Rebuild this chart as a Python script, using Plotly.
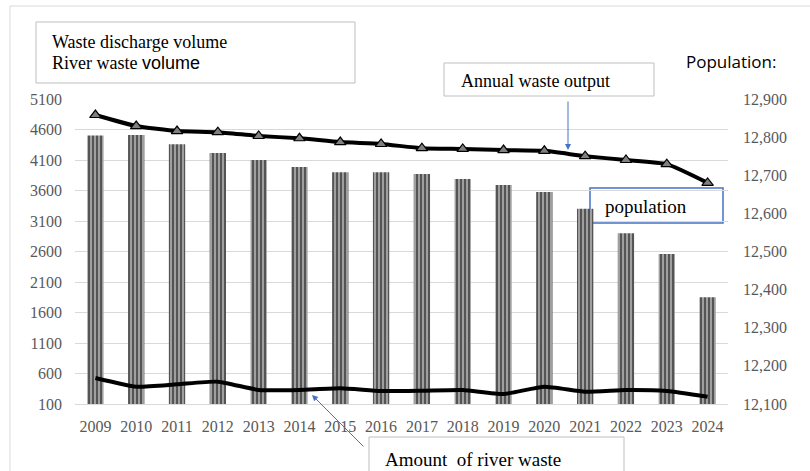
import plotly.graph_objects as go

years = [str(y) for y in range(2009, 2025)]
discharge = [4500, 4510, 4360, 4215, 4100, 3985, 3900, 3900, 3870, 3790, 3690, 3575, 3300, 2900, 2560, 1850]
river_waste = [526, 384, 423, 466, 330, 330, 357, 313, 318, 330, 264, 384, 302, 330, 313, 220]
population = [12858, 12829, 12816, 12813, 12803, 12797, 12787, 12782, 12771, 12769, 12766, 12764, 12750, 12740, 12729, 12680]

left_ticks = list(range(100, 5101, 500))
right_ticks = list(range(12100, 12901, 100))
right_labels = [f"{v:,}" for v in right_ticks]

W, H = 810, 471
L, R, T, B = 75, 82, 99, 67
PW, PH = W - L - R, H - T - B


def px(x):
    return (x - L) / PW


def py(y):
    return (H - B - y) / PH


SERIF = "Liberation Serif"
fig = go.Figure()
fig.add_trace(go.Bar(
    x=years, y=discharge, width=0.4, name="Waste discharge volume",
    marker=dict(color="#a8a8a8", line=dict(width=0),
                pattern=dict(shape="|", fgcolor="#000000", bgcolor="#a8a8a8", size=4, solidity=0.55)),
))
fig.add_trace(go.Scatter(
    x=years, y=river_waste, mode="lines", name="River waste volume",
    line=dict(color="black", width=4, shape="spline", smoothing=0.5),
))
fig.add_trace(go.Scatter(
    x=years, y=population, mode="lines+markers", name="population", yaxis="y2",
    line=dict(color="black", width=4, shape="spline", smoothing=0.5),
    marker=dict(symbol="triangle-up", size=10, color="#808080", line=dict(color="black", width=1.2)),
))

shapes = [
    dict(type="rect", xref="paper", yref="paper", x0=px(10), x1=px(840), y0=py(6), y1=py(500),
         line=dict(color="#d9d9d9", width=1), layer="below"),
    dict(type="rect", xref="paper", yref="paper", x0=px(36), x1=px(355), y0=py(22), y1=py(83),
         line=dict(color="#bfbfbf", width=1), fillcolor="white"),
    dict(type="rect", xref="paper", yref="paper", x0=px(444), x1=px(654), y0=py(63), y1=py(96),
         line=dict(color="#bfbfbf", width=1), fillcolor="white"),
    dict(type="rect", xref="paper", yref="paper", x0=px(590), x1=px(723), y0=py(188), y1=py(223),
         line=dict(color="#4472c4", width=1.5), fillcolor="white", layer="between"),
    dict(type="rect", xref="paper", yref="paper", x0=px(369), x1=px(624), y0=py(437), y1=py(480),
         line=dict(color="#bfbfbf", width=1), fillcolor="white"),
]

annotations = [
    dict(x=px(50), y=py(42), text="Waste discharge volume", xanchor="left", yanchor="middle",
         font=dict(family=SERIF, size=18, color="black")),
    dict(x=px(50), y=py(63), text="River waste <span style='font-family:Liberation Sans'>volume</span>",
         xanchor="left", yanchor="middle", font=dict(family=SERIF, size=18, color="black")),
    dict(x=px(684), y=py(61), text="Population:", xanchor="left", yanchor="middle",
         font=dict(family="Open Sans", size=17, color="black")),
    dict(x=px(459), y=py(81), text="Annual waste output", xanchor="left", yanchor="middle",
         font=dict(family=SERIF, size=18, color="black")),
    dict(x=px(603), y=py(206), text="population", xanchor="left", yanchor="middle",
         font=dict(family=SERIF, size=19, color="black")),
    dict(x=px(383), y=py(459), text="Amount  of river waste", xanchor="left", yanchor="middle",
         font=dict(family=SERIF, size=19, color="black")),
    dict(x=px(568), y=py(150), ax=0, ay=-50, text="", showarrow=True, arrowhead=2, arrowsize=1.2,
         arrowwidth=1, arrowcolor="#4472c4"),
    dict(x=px(312), y=py(395), ax=53, ay=53, text="", showarrow=True, arrowhead=2, arrowsize=1.2,
         arrowwidth=1, arrowcolor="#4472c4"),
]
for a in annotations:
    a.setdefault("xref", "paper")
    a.setdefault("yref", "paper")
    a.setdefault("showarrow", False)

fig.update_layout(
    width=W, height=H, margin=dict(l=L, r=R, t=T, b=B, autoexpand=False),
    paper_bgcolor="white", plot_bgcolor="white", showlegend=False,
    bargap=0.6,
    xaxis=dict(type="category", range=[-0.5, 15.5], autorange=False, showgrid=False, showline=True,
               linecolor="#d9d9d9", ticks="", ticklabelstandoff=8, automargin=False,
               tickfont=dict(family=SERIF, size=16, color="#595959")),
    yaxis=dict(range=[100, 5100], tickvals=left_ticks, showgrid=True, gridcolor="#d9d9d9",
               zeroline=False, ticklabelstandoff=12, automargin=False,
               tickfont=dict(family=SERIF, size=16, color="#595959")),
    yaxis2=dict(range=[12100, 12900], tickvals=right_ticks, ticktext=right_labels, overlaying="y",
                side="right", showgrid=False, zeroline=False, ticklabelstandoff=14, automargin=False,
                tickfont=dict(family=SERIF, size=16, color="#595959")),
    shapes=shapes, annotations=annotations,
)

fig.write_html("out.html", config={"displayModeBar": False},
               post_script="document.body.style.margin='0';document.body.style.overflow='hidden';")
